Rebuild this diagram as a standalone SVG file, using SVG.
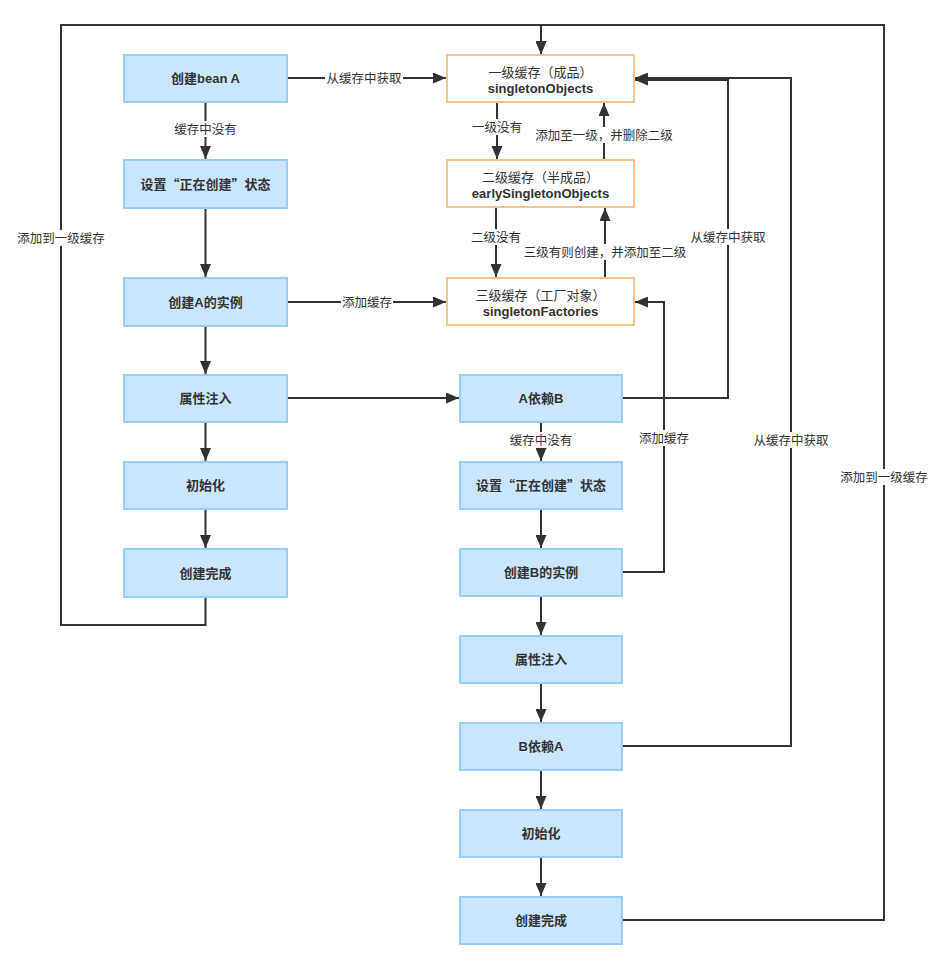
<svg xmlns="http://www.w3.org/2000/svg" width="944" height="969" viewBox="0 0 944 969">
<defs>
<marker id="arr" markerUnits="userSpaceOnUse" markerWidth="14" markerHeight="11" refX="13" refY="5.5" orient="auto">
<path d="M0,0 L13,5.5 L0,11 z" fill="#333"/>
</marker>
<style>
.blue{fill:#cce5ff;stroke:#99ccff;stroke-width:2}
.cache{fill:#ffffff;stroke:#f7c28c;stroke-width:2}
.t{font-family:"Liberation Sans","Noto Sans CJK SC",sans-serif;font-size:13px;font-weight:bold;fill:#333;text-anchor:middle}
.tc{font-family:"Noto Sans CJK SC",sans-serif;font-size:13px;font-weight:bold;fill:#333;text-anchor:middle}
.tn{font-family:"Liberation Sans","Noto Sans CJK SC",sans-serif;font-size:13px;fill:#333;text-anchor:middle}
.lbl{font-family:"Liberation Sans","Noto Sans CJK SC",sans-serif;font-size:12.5px;fill:#333;text-anchor:middle}
.e{fill:none;stroke:#333;stroke-width:2}
.lb{fill:#fff}
</style>
</defs>
<rect width="944" height="969" fill="#fff"/>
<g id="connectors">
<path class="e" d="M205.5,597 V625 H61 V25 H541 V54" marker-end="url(#arr)"/>
<path class="e" d="M622,920 H884 V25 H541 V54" marker-end="url(#arr)"/>
<path class="e" d="M287,78 H446" marker-end="url(#arr)"/>
<path class="e" d="M205.5,102 V159" marker-end="url(#arr)"/>
<path class="e" d="M205.5,208 V277" marker-end="url(#arr)"/>
<path class="e" d="M287,302 H446" marker-end="url(#arr)"/>
<path class="e" d="M205.5,326 V374" marker-end="url(#arr)"/>
<path class="e" d="M287,398 H459" marker-end="url(#arr)"/>
<path class="e" d="M205.5,422 V461" marker-end="url(#arr)"/>
<path class="e" d="M205.5,509 V548" marker-end="url(#arr)"/>
<path class="e" d="M497,102 V159" marker-end="url(#arr)"/>
<path class="e" d="M604,160 V103" marker-end="url(#arr)"/>
<path class="e" d="M496,208 V277" marker-end="url(#arr)"/>
<path class="e" d="M605,278 V208" marker-end="url(#arr)"/>
<path class="e" d="M622,398 H728 V80 H635" marker-end="url(#arr)"/>
<path class="e" d="M622,746 H791 V78 H635" marker-end="url(#arr)"/>
<path class="e" d="M622,572 H664 V302 H635" marker-end="url(#arr)"/>
<path class="e" d="M541,422 V461" marker-end="url(#arr)"/>
<path class="e" d="M541,509 V548" marker-end="url(#arr)"/>
<path class="e" d="M541,596 V635" marker-end="url(#arr)"/>
<path class="e" d="M541,683 V722" marker-end="url(#arr)"/>
<path class="e" d="M541,770 V809" marker-end="url(#arr)"/>
<path class="e" d="M541,857 V896" marker-end="url(#arr)"/>
<g id="labels">
<rect class="lb" x="325" y="70" width="78" height="16"/><text class="lbl" x="364" y="82.5">从缓存中获取</text>
<rect class="lb" x="173" y="121" width="65" height="16"/><text class="lbl" x="205.5" y="133.5">缓存中没有</text>
<rect class="lb" x="15" y="230" width="92" height="16"/><text class="lbl" x="61" y="242.5">添加到一级缓存</text>
<rect class="lb" x="341" y="294" width="52" height="16"/><text class="lbl" x="367" y="306.5">添加缓存</text>
<rect class="lb" x="471" y="119" width="52" height="16"/><text class="lbl" x="497" y="131.5">一级没有</text>
<rect class="lb" x="532" y="127" width="144" height="16"/><text class="lbl" x="604" y="139.5">添加至一级，并删除二级</text>
<rect class="lb" x="470" y="229" width="52" height="16"/><text class="lbl" x="496" y="241.5">二级没有</text>
<rect class="lb" x="520" y="244" width="170" height="16"/><text class="lbl" x="605" y="256.5">三级有则创建，并添加至二级</text>
<rect class="lb" x="689" y="229" width="78" height="16"/><text class="lbl" x="728" y="241.5">从缓存中获取</text>
<rect class="lb" x="508" y="432" width="65" height="16"/><text class="lbl" x="541" y="444.5">缓存中没有</text>
<rect class="lb" x="638" y="430" width="52" height="16"/><text class="lbl" x="664" y="442.5">添加缓存</text>
<rect class="lb" x="752" y="432" width="78" height="16"/><text class="lbl" x="791" y="444.5">从缓存中获取</text>
<rect class="lb" x="838" y="469" width="92" height="16"/><text class="lbl" x="884" y="481.5">添加到一级缓存</text>
</g>
</g>
<g id="a1"><rect class="blue" x="124" y="55" width="163" height="47"/><text class="t" x="205.5" y="83">创建bean A</text></g>
<g id="a2"><rect class="blue" x="124" y="160" width="163" height="48"/><text class="tc" x="205.5" y="188.5">设置“正在创建”状态</text></g>
<g id="a3"><rect class="blue" x="124" y="278" width="163" height="48"/><text class="t" x="205.5" y="306.5">创建A的实例</text></g>
<g id="a4"><rect class="blue" x="124" y="375" width="163" height="47"/><text class="t" x="205.5" y="403">属性注入</text></g>
<g id="a5"><rect class="blue" x="124" y="462" width="163" height="47"/><text class="t" x="205.5" y="490">初始化</text></g>
<g id="a6"><rect class="blue" x="124" y="549" width="163" height="48"/><text class="t" x="205.5" y="577.5">创建完成</text></g>
<g id="c1"><rect class="cache" x="447" y="55" width="187" height="47"/><text class="tn" x="540.5" y="76.5">一级缓存（成品）</text><text class="t" x="540.5" y="92.5">singletonObjects</text></g>
<g id="c2"><rect class="cache" x="447" y="160" width="187" height="47"/><text class="tn" x="540.5" y="181.5">二级缓存（半成品）</text><text class="t" x="540.5" y="197.5">earlySingletonObjects</text></g>
<g id="c3"><rect class="cache" x="447" y="278" width="187" height="47"/><text class="tn" x="540.5" y="299.5">三级缓存（工厂对象）</text><text class="t" x="540.5" y="315.5">singletonFactories</text></g>
<g id="b1"><rect class="blue" x="460" y="375" width="162" height="47"/><text class="t" x="541" y="403">A依赖B</text></g>
<g id="b2"><rect class="blue" x="460" y="462" width="162" height="47"/><text class="tc" x="541" y="490">设置“正在创建”状态</text></g>
<g id="b3"><rect class="blue" x="460" y="549" width="162" height="47"/><text class="t" x="541" y="577">创建B的实例</text></g>
<g id="b4"><rect class="blue" x="460" y="636" width="162" height="47"/><text class="t" x="541" y="664">属性注入</text></g>
<g id="b5"><rect class="blue" x="460" y="723" width="162" height="47"/><text class="t" x="541" y="751">B依赖A</text></g>
<g id="b6"><rect class="blue" x="460" y="810" width="162" height="47"/><text class="t" x="541" y="838">初始化</text></g>
<g id="b7"><rect class="blue" x="460" y="897" width="162" height="47"/><text class="t" x="541" y="925">创建完成</text></g>
</svg>
